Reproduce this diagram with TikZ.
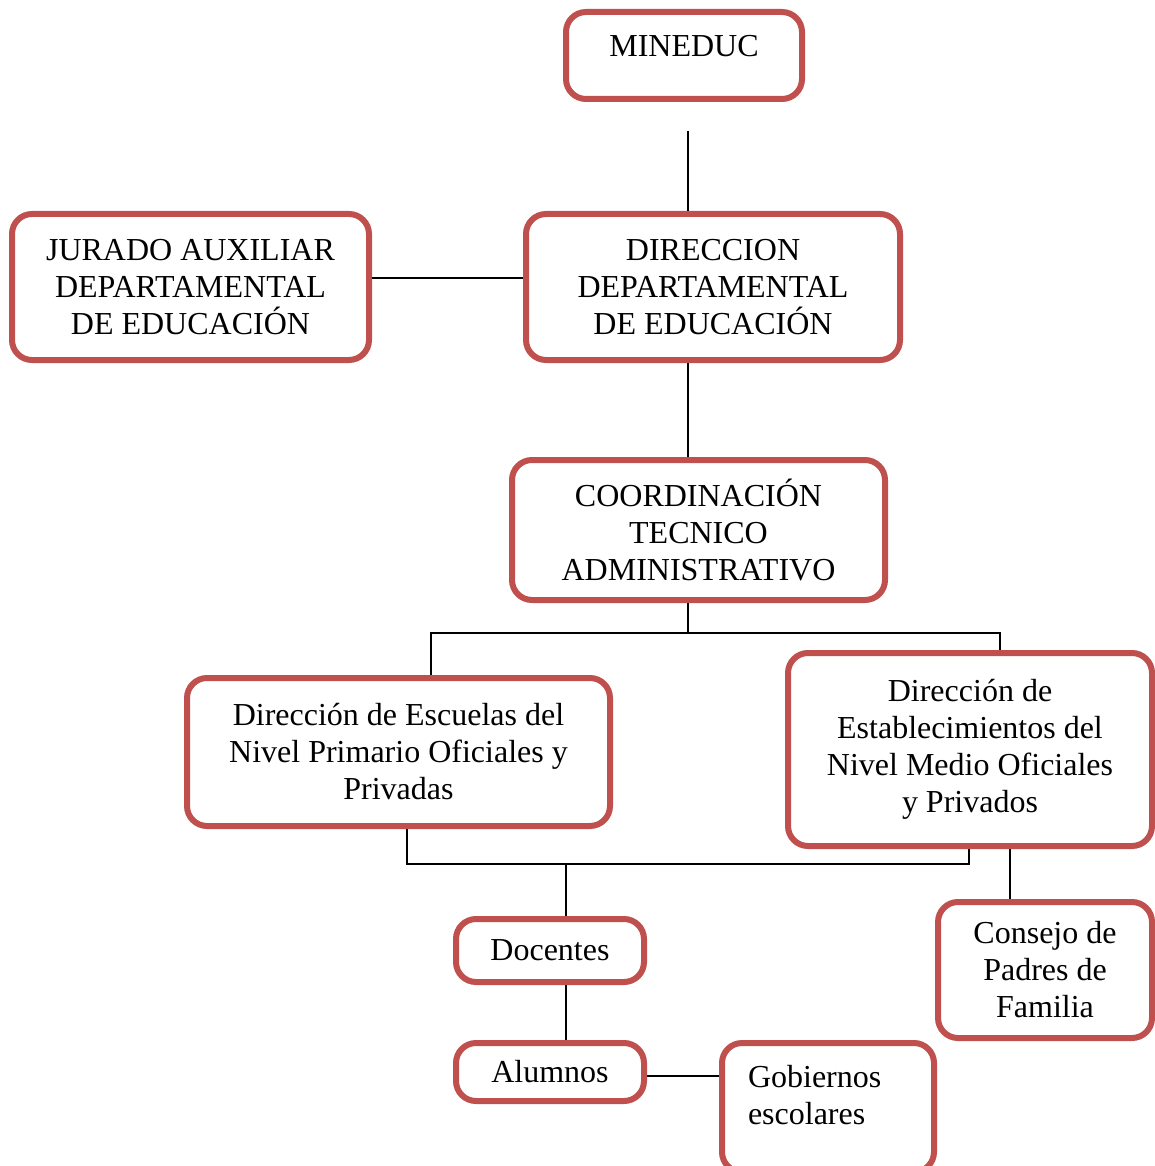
\documentclass[tikz,border=0pt]{standalone}
\usepackage{fontspec}
\setmainfont{Liberation Serif}
\usetikzlibrary{positioning}
\definecolor{frame}{HTML}{C0504D}
\definecolor{ink}{HTML}{000000}
\tikzset{
  box/.style={draw=frame,line width=6pt,rounded corners=20pt,fill=white,inner sep=0pt,align=center,font=\fontsize{32}{37}\selectfont,text=ink},
  ln/.style={draw=ink,line width=2pt},
}
\begin{document}
\begin{tikzpicture}[x=1pt,y=-1pt]
  \clip (0,0) rectangle (1155,1166);
  \node[box,minimum width=236pt,minimum height=87pt,text depth=19pt] (mineduc) at (684,55.5) {MINEDUC};
  \node[box,minimum width=357pt,minimum height=146pt] (jurado) at (190.5,287) {JURADO AUXILIAR\\DEPARTAMENTAL\\DE EDUCACIÓN};
  \node[box,minimum width=374pt,minimum height=146pt] (direccion) at (713,287) {DIRECCION\\DEPARTAMENTAL\\DE EDUCACIÓN};
  \node[box,minimum width=373pt,minimum height=140pt] (coord) at (698.5,530) {COORDINACIÓN\\TECNICO\\ADMINISTRATIVO};
  \node[box,minimum width=423pt,minimum height=148pt] (primaria) at (398.5,752) {Dirección de Escuelas del\\Nivel Primario Oficiales y\\Privadas};
  \node[box,minimum width=364pt,minimum height=193pt] (medio) at (970,749.5) {Dirección de\\Establecimientos del\\Nivel Medio Oficiales\\y Privados};
  \node[box,minimum width=188pt,minimum height=63pt] (docentes) at (550,950.5) {Docentes};
  \node[box,minimum width=188pt,minimum height=58pt] (alumnos) at (550,1072) {Alumnos};
  \node[box,minimum width=214pt,minimum height=136pt] (consejo) at (1045,970) {Consejo de\\Padres de\\Familia};
  \node[box,minimum width=212pt,minimum height=129pt,align=left,text width=160pt,text depth=62pt] (gobiernos) at (828,1107.5) {Gobiernos\\escolares};

  % connectors
  \coordinate (spine) at (688,131);
  \coordinate (busA) at (688,633);
  \coordinate (busB) at (566,864);
  \draw[ln] (spine) -- (spine |- direccion.north);
  \draw[ln] ([yshift=9pt]jurado.east) -- ([yshift=9pt]direccion.west);
  \draw[ln] (spine |- direccion.south) -- (spine |- coord.north);
  \draw[ln] (spine |- coord.south) -- (busA);
  \draw[ln] ([xshift=32.5pt]primaria.north) |- (busA) -| ([xshift=30pt]medio.north);
  \draw[ln] ([xshift=8.5pt]primaria.south) |- (busB) -| ([xshift=-1pt]medio.south);
  \draw[ln] (busB) -- ([xshift=16pt]docentes.north);
  \draw[ln] ([xshift=16pt]docentes.south) -- ([xshift=16pt]alumnos.north);
  \draw[ln] ([yshift=-4pt]alumnos.east) -- ([yshift=-4pt]alumnos.east -| gobiernos.west);
  \draw[ln] ([xshift=40pt]medio.south) -- ([xshift=40pt]medio.south |- consejo.north);
\end{tikzpicture}
\end{document}
